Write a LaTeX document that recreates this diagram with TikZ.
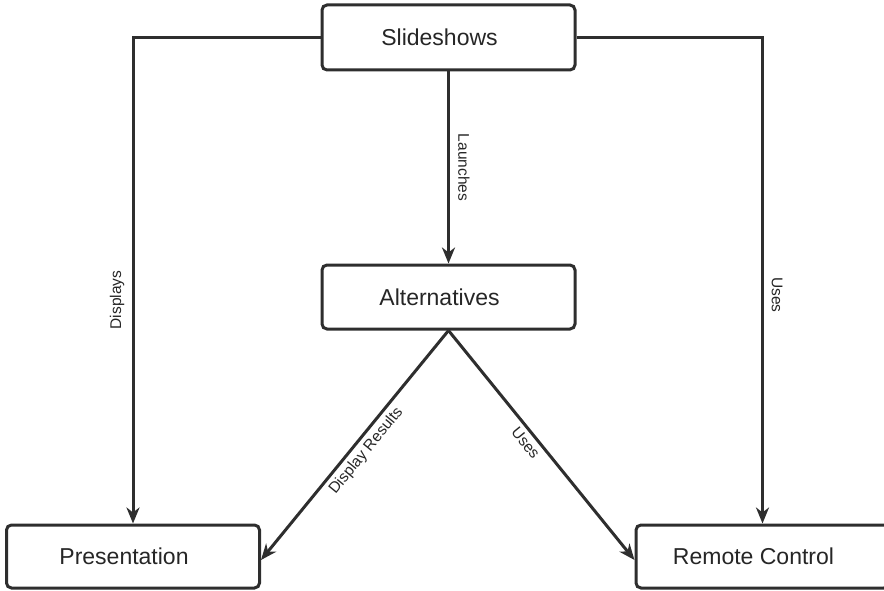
\documentclass[tikz,border=0pt]{standalone}
\usepackage{fontspec}
\setmainfont{Liberation Sans}
\usetikzlibrary{arrows.meta,calc}
\definecolor{ink}{HTML}{2E2E2E}
\begin{document}
\begin{tikzpicture}[x=1pt,y=-1pt,
  box/.style={draw=ink, line width=3pt, rounded corners=5pt, fill=white,
    minimum width=253pt, minimum height=64pt, inner sep=0pt,
    font=\fontsize{23}{27}\selectfont, text=black!85,
    execute at begin node={\hspace*{-18pt}}},
  link/.style={draw=ink, line width=3pt,
    -{Stealth[length=16pt,width=13pt,inset=5pt]}},
  tag/.style={font=\fontsize{15.5}{18}\selectfont, text=black!85,
    inner sep=1pt, text height=11pt, text depth=3.3pt}]
\useasboundingbox (0,0) rectangle (884,591);

% boxes
\node[box, minimum height=65pt] (ss) at (448.5,37.5) {Slideshows};
\node[box] (al) at (448.5,297) {Alternatives};
\node[box, minimum height=63pt] (pr) at (133,556.5) {Presentation};
\node[box, minimum height=63pt] (rc) at (762.5,556.5) {Remote Control};

% connectors
\draw[link] (ss.south) -- node[tag, midway, rotate=-90, anchor=south, outer sep=5.5pt] (lLaunch) {Launches} (al.north);
\draw[link] (ss.west) -| node[tag, pos=.77, rotate=90, anchor=south, outer sep=7.5pt] (lDisp) {Displays} (pr.north);
\draw[link] (ss.east) -| node[tag, pos=.765, rotate=-90, anchor=south, outer sep=5pt] (lUses) {Uses} (rc.north);
\draw[link] (al.south) -- node[tag, pos=.49, sloped, anchor=north, outer sep=4.5pt] (lRes) {Display Results} ($(pr.east)+(0,3.5)$);
\draw[link] (al.south) -- node[tag, pos=.46, sloped, anchor=north, outer sep=4pt] (lUse2) {Uses} ($(rc.west)+(0,3.5)$);
\end{tikzpicture}
\end{document}
